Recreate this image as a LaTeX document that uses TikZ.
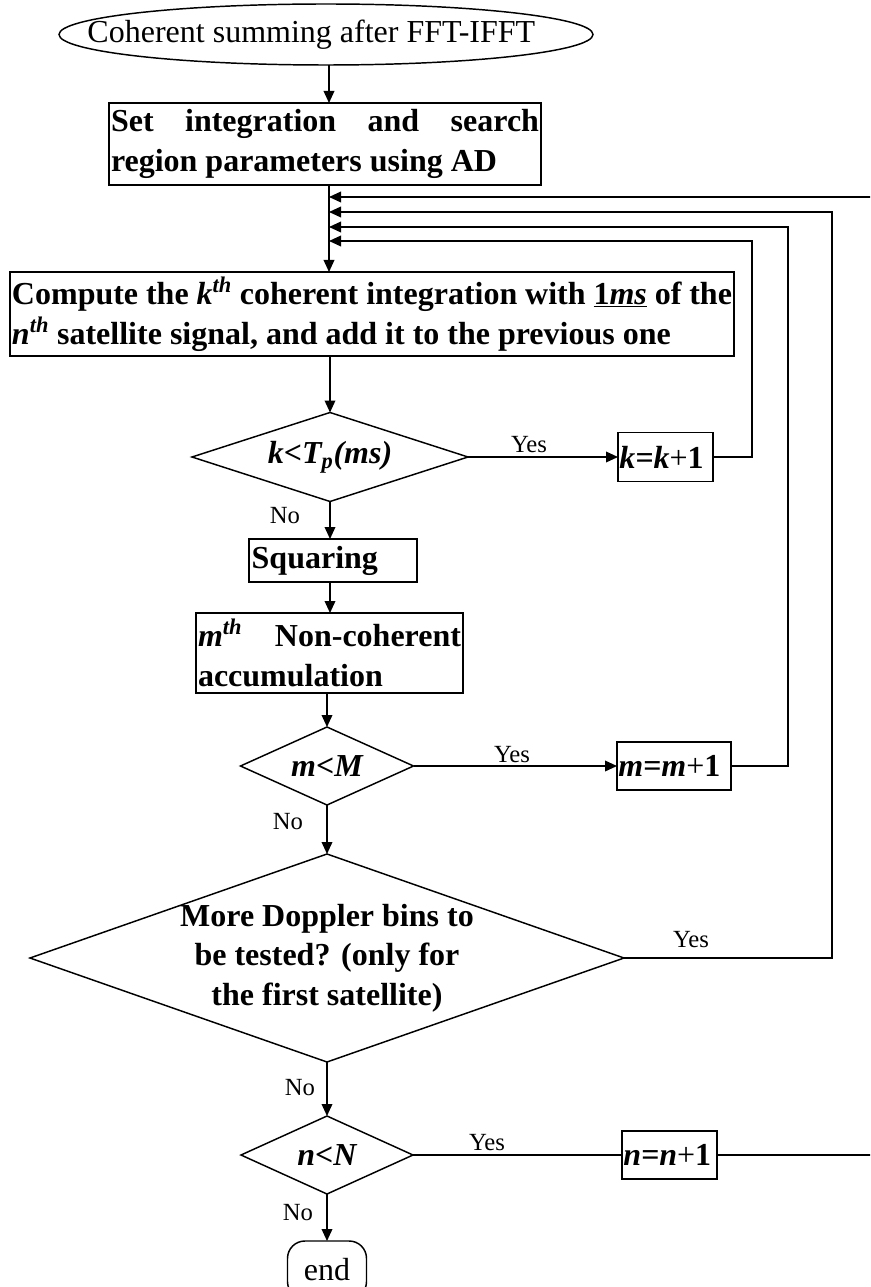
\documentclass[tikz,border=0pt]{standalone}
\usepackage{fontspec}
\setmainfont{Liberation Serif}
\usetikzlibrary{shapes.geometric,arrows.meta}
\hyphenpenalty=10000
\exhyphenpenalty=10000
\tolerance=10000
\begin{document}
\begin{tikzpicture}[x=0.75pt,y=-0.75pt,
  every node/.style={inner sep=0pt, outer sep=0pt},
  box/.style={draw, line width=1.1pt, rectangle},
  txt/.style={font=\fontsize{24}{30}\selectfont\bfseries},
  dia/.style={draw, line width=1.1pt, diamond, font=\fontsize{24}{30}\selectfont\bfseries\itshape},
  lbl/.style={font=\fontsize{18.5}{22}\selectfont},
  flow/.style={line width=1.1pt},
  arr/.style={flow, -{Triangle[length=9pt,width=8pt]}}]
\useasboundingbox (0,0) rectangle (870,1287);
\clip (0,0) rectangle (870,1287);

% nodes
\node[draw, line width=1.1pt, ellipse, minimum width=400.5pt, minimum height=45.75pt,
      inner xsep=-30pt, font=\fontsize{24}{30}\selectfont] (start) at (326,34.5)
      {\hspace*{-22pt}Coherent summing after FFT-IFFT};
\node[box, txt, minimum width=324pt, minimum height=61.5pt, text width=321pt,
      align=justify, inner xsep=1.5pt] (set) at (325,144)
      {Set integration and search\linebreak region parameters using AD};
\node[box, txt, minimum width=543pt, minimum height=63pt, text width=540pt,
      align=justify, inner xsep=1.5pt] (comp) at (372,314)
      {Compute the \textit{k}\textsuperscript{\textit{th}} coherent integration with \underline{1\textit{ms}} of the\linebreak \textit{n}\textsuperscript{\textit{th}} satellite signal, and add it to the previous one};
\node[dia, aspect=3.1, minimum width=207pt, minimum height=66.75pt] (k) at (330,457)
      {k<T\textsubscript{p}(ms)};
\node[box, txt, minimum width=71.25pt, minimum height=36.75pt, text width=69.25pt,
      align=left, inner xsep=1pt] (kbox) at (665.5,457) {\textit{k=k}\textmd{+}1};
\node[box, txt, minimum width=126pt, minimum height=32.25pt, text width=122pt,
      align=left, inner xsep=2pt] (sq) at (333,560.5) {Squaring};
\node[box, txt, minimum width=200.25pt, minimum height=60pt, text width=197.25pt,
      align=justify, inner xsep=1.5pt] (mth) at (329.5,653)
      {\textit{m}\textsuperscript{\textit{th}} Non-coherent\linebreak accumulation};
\node[dia, aspect=2.2, minimum width=129.75pt, minimum height=58.5pt] (m) at (327,766) {m<M};
\node[box, txt, minimum width=85.5pt, minimum height=36pt, text width=83.5pt,
      align=left, inner xsep=1pt] (mbox) at (674,766) {\textit{m=m}\textmd{+}1};
\node[dia, aspect=2.86, minimum width=445.5pt, minimum height=156pt, inner sep=-8pt,
      font=\fontsize{24}{29.5}\selectfont\bfseries, align=center] (dop) at (327,958)
      {More Doppler bins to\\be tested? (only for\\the first satellite)};
\node[dia, aspect=2.2, minimum width=129pt, minimum height=58.5pt] (n) at (327,1155) {n<N};
\node[box, txt, minimum width=71.25pt, minimum height=36pt, text width=69.25pt,
      align=left, inner xsep=1pt] (nbox) at (669.5,1155) {\textit{n=n}\textmd{+}1};
\node[draw, line width=1.1pt, rounded corners=13pt, minimum width=59.25pt,
      minimum height=43.5pt, font=\fontsize{24}{30}\selectfont] (stop) at (327,1270) {end};

% return coordinates
\coordinate (col) at (329,0);
\coordinate (kret) at (329,241); \coordinate (kup) at (752,241);
\coordinate (mret) at (329,227); \coordinate (mup) at (788,227);
\coordinate (dret) at (329,212); \coordinate (dup) at (832,212);
\coordinate (nret) at (329,197); \coordinate (nup) at (874,197);

% connectors
\draw[arr] (start.south -| col) -- (set.north -| col);
\draw[arr] (set.south -| col) -- (comp.north -| col);
\draw[arr] (comp.south -| k.north) -- (k.north);
\draw[arr] (k.east) -- (kbox.west);
\draw[arr] (kbox.east) -| (kup) -- (kret);
\draw[arr] (k.south) -- (sq.north -| k.south);
\draw[arr] (sq.south -| k.south) -- (mth.north -| k.south);
\draw[arr] (mth.south -| m.north) -- (m.north);
\draw[arr] (m.east) -- (mbox.west);
\draw[arr] (mbox.east) -| (mup) -- (mret);
\draw[arr] (m.south) -- (dop.north);
\draw[arr] (dop.east) -| (dup) -- (dret);
\draw[arr] (dop.south) -- (n.north);
\draw[flow] (n.east) -- (nbox.west);
\draw[arr] (nbox.east) -| (nup) -- (nret);
\draw[arr] (n.south) -- (stop.north);

% labels
\node[lbl, anchor=base] (y1) at (529,452) {Yes};
\node[lbl, anchor=base] (y2) at (512,762) {Yes};
\node[lbl, anchor=base] (y3) at (691,947) {Yes};
\node[lbl, anchor=base] (y4) at (487,1150) {Yes};
\node[lbl, anchor=base east] (n1) at (300,523) {No};
\node[lbl, anchor=base east] (n2) at (303,829) {No};
\node[lbl, anchor=base east] (n3) at (315,1095) {No};
\node[lbl, anchor=base east] (n4) at (313,1220) {No};
\end{tikzpicture}
\end{document}
